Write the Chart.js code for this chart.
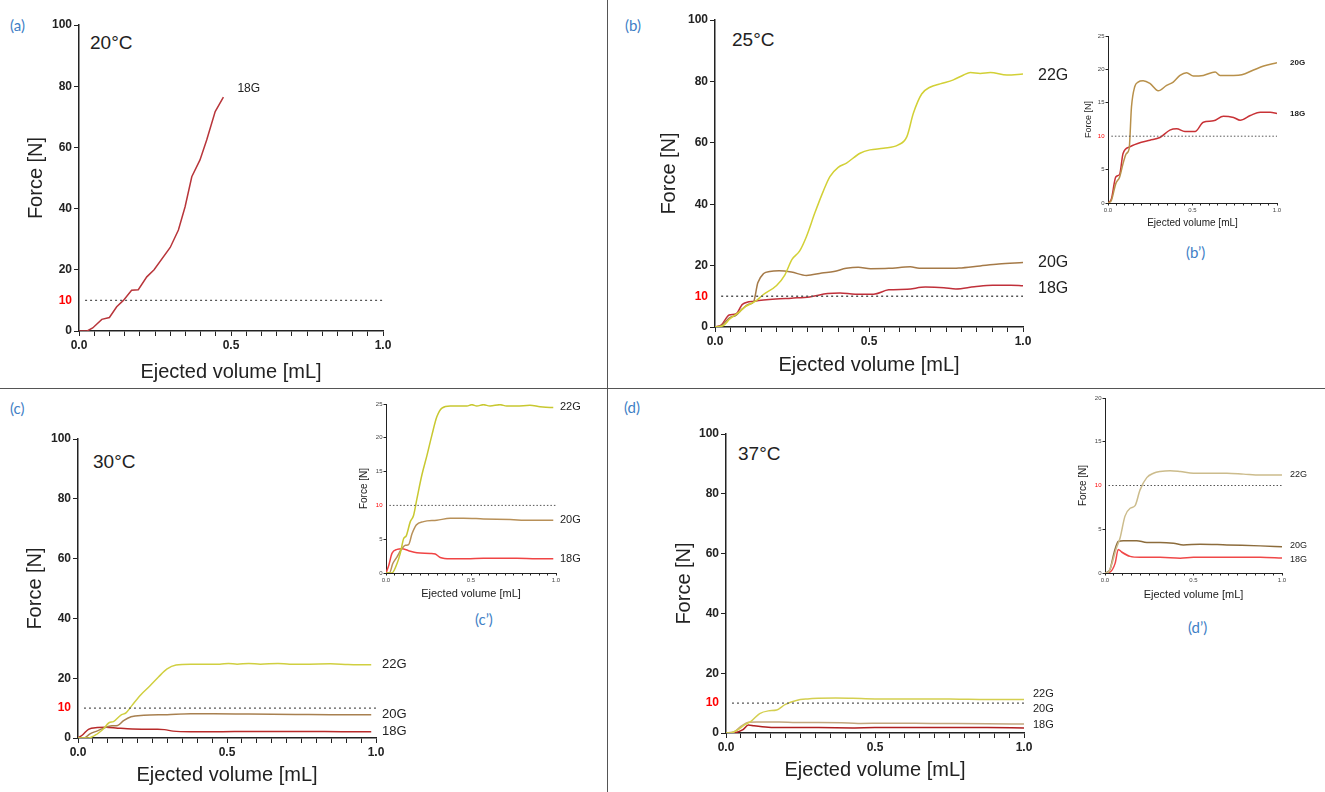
<!DOCTYPE html>
<html>
<head>
<meta charset="utf-8">
<script src="https://cdn.jsdelivr.net/npm/chart.js@4/dist/chart.umd.min.js"></script>
<style>
    body { margin: 0; width: 1325px; height: 792px; background: #fff; position: relative; overflow: hidden; font-family: Arial, "Liberation Sans", sans-serif; }
    canvas { position: absolute; }
    .tag { position: absolute; color: #3f7fc6; font: 15px Lato, "Open Sans", sans-serif; line-height: 1; }
    .temp { position: absolute; color: #222; font-size: 19px; line-height: 1; }
    .vline { position: absolute; left: 607px; top: 0; width: 1px; height: 792px; background: #555; z-index: 5; }
    .hline { position: absolute; left: 0; top: 388px; width: 1325px; height: 1px; background: #555; z-index: 5; }
</style>
</head>
<body>
<div class="vline"></div>
<div class="hline"></div>

<div class="tag" style="left:10px;top:18px">(a)</div>
<div class="tag" style="left:625px;top:18px">(b)</div>
<div class="tag" style="left:10px;top:401px">(c)</div>
<div class="tag" style="left:624px;top:400px">(d)</div>
<div class="tag" style="left:1186px;top:245px">(b’)</div>
<div class="tag" style="left:475px;top:612px">(c’)</div>
<div class="tag" style="left:1188px;top:620px">(d’)</div>

<div class="temp" style="left:90px;top:33px">20°C</div>
<div class="temp" style="left:732px;top:30px">25°C</div>
<div class="temp" style="left:93px;top:452px">30°C</div>
<div class="temp" style="left:738px;top:444px">37°C</div>

<script>
///////////////////////////
// DATA
///////////////////////////

const THRESHOLD = 10;
const thresholdFrom = 0.02;

const yTicksMain = [0, 10, 20, 40, 60, 80, 100];
const yTicksInset25 = [0, 5, 10, 15, 20, 25];
const yTicksInset20 = [0, 5, 10, 15, 20];

// (a) 20°C
const volA18 = [0, 0.027, 0.045, 0.075, 0.1, 0.124, 0.146, 0.173, 0.195, 0.223, 0.247, 0.3, 0.327, 0.349, 0.371, 0.398, 0.42, 0.448, 0.475];
const forceA18 = [0, 0, 1, 3.8, 4.4, 7.9, 10, 13.3, 13.5, 17.7, 20, 27.3, 33, 40.6, 50.4, 55.9, 62.4, 71.7, 76.4];

// (b) 25°C
const volB22 = [0, 0.026, 0.048, 0.075, 0.1, 0.133, 0.156, 0.2, 0.227, 0.25, 0.275, 0.297, 0.324, 0.351, 0.373, 0.4, 0.427, 0.471, 0.503, 0.547, 0.595, 0.623, 0.644, 0.671, 0.698, 0.731, 0.774, 0.807, 0.829, 0.861, 0.894, 0.948, 1.0];
const forceB22 = [0, 0.4, 2.6, 4.6, 6.7, 8.5, 10.5, 13.5, 17, 22, 24.8, 29.5, 37.1, 44.1, 49, 52, 53.4, 56.6, 57.7, 58.2, 59.3, 62, 69.6, 75.9, 78.1, 79.2, 80.5, 82.1, 82.9, 82.6, 82.9, 82.1, 82.4];
const volB20 = [0, 0.02, 0.046, 0.069, 0.089, 0.109, 0.125, 0.139, 0.158, 0.178, 0.208, 0.248, 0.297, 0.347, 0.386, 0.426, 0.465, 0.505, 0.564, 0.634, 0.663, 0.743, 0.792, 0.861, 0.921, 1.0];
const forceB20 = [0, 0.4, 2.9, 3.9, 5.9, 7.4, 8.1, 14.4, 17.4, 18.1, 18.3, 17.9, 16.8, 17.6, 18.1, 19.1, 19.5, 19, 19.1, 19.6, 19.1, 19.1, 19.2, 19.9, 20.5, 21];
const volB18 = [0, 0.02, 0.046, 0.069, 0.089, 0.129, 0.198, 0.248, 0.307, 0.366, 0.406, 0.455, 0.515, 0.564, 0.624, 0.683, 0.743, 0.782, 0.842, 0.901, 0.96, 1.0];
const forceB18 = [0, 0.6, 3.9, 4.3, 7.4, 8.4, 9.1, 9.4, 9.8, 10.9, 11.1, 10.7, 10.7, 12.1, 12.3, 13, 12.8, 12.4, 13.1, 13.6, 13.6, 13.4];

// (c) 30°C
const volC22 = [0, 0.035, 0.065, 0.084, 0.104, 0.119, 0.143, 0.162, 0.182, 0.211, 0.241, 0.27, 0.299, 0.329, 0.378, 0.476, 0.505, 0.534, 0.573, 0.612, 0.671, 0.71, 0.769, 0.847, 0.906, 0.965, 0.984];
const forceC22 = [0, 0, 1.4, 2.9, 5.1, 5.5, 7.6, 8.5, 11, 14.5, 17.4, 20.4, 23.1, 24.4, 24.7, 24.7, 24.9, 24.7, 24.9, 24.7, 24.9, 24.7, 24.7, 24.8, 24.6, 24.5, 24.5];
const volC20 = [0, 0.02, 0.04, 0.065, 0.088, 0.114, 0.133, 0.153, 0.178, 0.221, 0.299, 0.378, 0.456, 0.573, 0.73, 0.847, 0.984];
const forceC20 = [0, 0, 1.4, 2.4, 3.4, 4.1, 4.2, 5.8, 7.1, 7.6, 7.8, 8.1, 8.1, 8, 7.9, 7.8, 7.8];
const volC18 = [0, 0.016, 0.035, 0.065, 0.094, 0.133, 0.182, 0.26, 0.29, 0.319, 0.378, 0.476, 0.573, 0.671, 0.769, 0.886, 0.984];
const forceC18 = [0, 1.1, 2.9, 3.5, 3.6, 3.3, 3, 2.9, 2.8, 2.3, 2.1, 2.1, 2.2, 2.2, 2.2, 2.1, 2.1];

// (d) 37°C
const volD22 = [0, 0.019, 0.038, 0.062, 0.085, 0.113, 0.142, 0.17, 0.198, 0.236, 0.274, 0.311, 0.368, 0.425, 0.5, 0.594, 0.689, 0.783, 0.877, 1.0];
const forceD22 = [0, 0.1, 1, 2.7, 4, 6.5, 7.4, 7.7, 9.5, 10.9, 11.4, 11.6, 11.7, 11.6, 11.4, 11.4, 11.4, 11.3, 11.2, 11.2];
const volD20 = [0, 0.028, 0.051, 0.075, 0.104, 0.179, 0.236, 0.311, 0.387, 0.443, 0.538, 0.689, 0.877, 1.0];
const forceD20 = [0, 0.4, 2.3, 3.6, 3.7, 3.7, 3.5, 3.5, 3.4, 3.2, 3.3, 3.2, 3.1, 3.0];
const volD18 = [0, 0.028, 0.057, 0.075, 0.094, 0.142, 0.198, 0.311, 0.425, 0.5, 0.689, 0.877, 1.0];
const forceD18 = [0, 0.1, 1.1, 2.7, 2.4, 1.9, 1.8, 1.8, 1.7, 1.8, 1.8, 1.8, 1.7];

///////////////////////////
// PLUGIN – curve labels
///////////////////////////

const endLabels = {
    id: "endLabels",
    afterDatasetsDraw(chart, args, opts) {
        const { ctx, scales: { x, y } } = chart;
        ctx.save();
        ctx.font = opts.font;
        ctx.fillStyle = "#222";
        ctx.textBaseline = "middle";
        chart.data.datasets.forEach(ds => {
            if (!ds.label) return;
            const last = ds.data[ds.data.length - 1];
            const dy = (opts.dy && opts.dy[ds.label]) || 0;
            const px = opts.atEdge ? chart.chartArea.right + opts.dx : x.getPixelForValue(last.x) + opts.dx;
            ctx.fillText(ds.label, px, y.getPixelForValue(last.y) + dy);
        });
        ctx.restore();
    }
};

///////////////////////////
// CHART BUILDER
///////////////////////////

function toPoints(xs, ys) {
    return xs.map((v, i) => ({ x: v, y: ys[i] }));
}

function isMajor(v) {
    return Math.abs(v * 2 - Math.round(v * 2)) < 1e-6;
}

function makeChart(p) {
    const w = p.yw + (p.R - p.L) + p.pr;
    const h = p.pt + (p.B - p.T) + p.xh;
    const cv = document.createElement("canvas");
    cv.width = w;
    cv.height = h;
    cv.style.width = w + "px";
    cv.style.height = h + "px";
    cv.style.left = (p.L - p.yw) + "px";
    cv.style.top = (p.T - p.pt) + "px";
    document.body.appendChild(cv);

    const datasets = [{
        data: [{ x: thresholdFrom, y: THRESHOLD }, { x: 1, y: THRESHOLD }],
        borderColor: "#555",
        borderWidth: p.inset ? 1 : 1.4,
        borderDash: p.inset ? [1.5, 2] : [2, 3],
        pointRadius: 0
    }];

    p.series.forEach(s => {
        datasets.push({
            label: s.label,
            data: toPoints(s.xs, s.ys),
            borderColor: s.color,
            borderWidth: 1.5,
            pointRadius: 0,
            cubicInterpolationMode: p.smooth ? "monotone" : "default",
            tension: 0
        });
    });

    const tickFont = p.inset
        ? { family: "Arial", size: 6 }
        : { family: "Arial", size: 12, weight: "bold" };
    const tickColor = p.inset ? "#444" : "#222";

    new Chart(cv.getContext("2d"), {
        type: "line",
        data: { datasets },
        plugins: [endLabels],
        options: {
            responsive: false,
            animation: false,
            layout: { padding: { left: 0, top: p.pt, right: p.pr, bottom: 0 } },
            plugins: {
                legend: { display: false },
                tooltip: { enabled: false },
                endLabels: p.labels
            },
            scales: {
                x: {
                    type: "linear",
                    min: 0,
                    max: 1,
                    border: { color: "#222", width: p.inset ? 1 : 1.5 },
                    grid: { drawOnChartArea: false, tickLength: p.inset ? 2.5 : 5, tickColor: "#222", tickWidth: 1 },
                    ticks: {
                        stepSize: 0.05,
                        maxTicksLimit: 40,
                        autoSkip: false,
                        maxRotation: 0,
                        padding: p.inset ? 1 : 2,
                        font: tickFont,
                        color: tickColor,
                        callback: v => isMajor(v) ? v.toFixed(1) : ""
                    },
                    title: {
                        display: true,
                        text: "Ejected volume [mL]",
                        color: "#222",
                        font: { family: "Arial", size: p.titleSize },
                        padding: { top: 4, bottom: 4 }
                    },
                    afterFit: s => { s.height = p.xh; }
                },
                y: {
                    min: 0,
                    max: p.yMax,
                    afterBuildTicks: s => { s.ticks = p.yTicks.map(v => ({ value: v })); },
                    border: { color: "#222", width: p.inset ? 1 : 1.5 },
                    grid: {
                        drawOnChartArea: false,
                        tickLength: p.inset ? 2.5 : 5,
                        tickWidth: 1,
                        tickColor: c => c.tick && c.tick.value === THRESHOLD ? "rgba(0,0,0,0)" : "#222"
                    },
                    ticks: {
                        padding: p.inset ? 1 : 2,
                        font: tickFont,
                        color: c => c.tick && c.tick.value === THRESHOLD ? "#f00" : tickColor
                    },
                    title: {
                        display: true,
                        text: "Force [N]",
                        color: "#222",
                        font: { family: "Arial", size: p.yTitleSize || p.titleSize },
                        padding: { top: 4, bottom: 4 }
                    },
                    afterFit: s => { s.width = p.yw; }
                }
            }
        }
    });
}

///////////////////////////
// PANELS
///////////////////////////

// (a) 20°C
makeChart({
    L: 79, T: 25, R: 383, B: 331, yw: 59, xh: 57, pt: 10, pr: 40,
    yMax: 100, yTicks: yTicksMain, titleSize: 20, smooth: false,
    labels: { font: "12px Arial", dx: 14, dy: { "18G": -9 }, atEdge: false },
    series: [{ label: "18G", xs: volA18, ys: forceA18, color: "#b8353a" }]
});

// (b) 25°C
makeChart({
    L: 715, T: 20, R: 1023, B: 327, yw: 62, xh: 54, pt: 10, pr: 55,
    yMax: 100, yTicks: yTicksMain, titleSize: 20, smooth: true,
    labels: { font: "16px Arial", dx: 15, dy: { "22G": 2, "18G": 3 }, atEdge: true },
    series: [
        { label: "22G", xs: volB22, ys: forceB22, color: "#d2d036" },
        { label: "20G", xs: volB20, ys: forceB20, color: "#a57a48" },
        { label: "18G", xs: volB18, ys: forceB18, color: "#c0303a" }
    ]
});

// (b') inset
makeChart({
    L: 1108, T: 36, R: 1277, B: 203, yw: 29, xh: 30, pt: 6, pr: 35, inset: true,
    yMax: 25, yTicks: yTicksInset25, titleSize: 10, yTitleSize: 9, smooth: true,
    labels: { font: "bold 8px Arial", dx: 13, atEdge: true },
    series: [
        { label: "20G", xs: volB20, ys: forceB20, color: "#b8904a" },
        { label: "18G", xs: volB18, ys: forceB18, color: "#c83236" }
    ]
});

// (c) 30°C
makeChart({
    L: 78, T: 439, R: 376, B: 738, yw: 59, xh: 53, pt: 10, pr: 35,
    yMax: 100, yTicks: yTicksMain, titleSize: 20, smooth: true,
    labels: { font: "13px Arial", dx: 6, atEdge: true },
    series: [
        { label: "22G", xs: volC22, ys: forceC22, color: "#d0cf40" },
        { label: "20G", xs: volC20, ys: forceC20, color: "#a88050" },
        { label: "18G", xs: volC18, ys: forceC18, color: "#b82a2a" }
    ]
});

// (c') inset
makeChart({
    L: 386, T: 404, R: 556, B: 573, yw: 32, xh: 32, pt: 6, pr: 30, inset: true,
    yMax: 25, yTicks: yTicksInset25, titleSize: 11, yTitleSize: 10, smooth: true,
    labels: { font: "11px Arial", dx: 4, atEdge: true },
    series: [
        { label: "22G", xs: volC22, ys: forceC22, color: "#c8c830" },
        { label: "20G", xs: volC20, ys: forceC20, color: "#b89058" },
        { label: "18G", xs: volC18, ys: forceC18, color: "#f04444" }
    ]
});

// (d) 37°C
makeChart({
    L: 726, T: 434, R: 1024, B: 733, yw: 58, xh: 53, pt: 10, pr: 40,
    yMax: 100, yTicks: yTicksMain, titleSize: 20, smooth: true,
    labels: { font: "11px Arial", dx: 9, dy: { "22G": -6, "20G": -15, "18G": -3 }, atEdge: true },
    series: [
        { label: "22G", xs: volD22, ys: forceD22, color: "#d4cf50" },
        { label: "20G", xs: volD20, ys: forceD20, color: "#c2a67e" },
        { label: "18G", xs: volD18, ys: forceD18, color: "#b02020" }
    ]
});

// (d') inset
makeChart({
    L: 1105, T: 398, R: 1282, B: 573, yw: 32, xh: 33, pt: 6, pr: 30, inset: true,
    yMax: 20, yTicks: yTicksInset20, titleSize: 11, yTitleSize: 10, smooth: true,
    labels: { font: "9px Arial", dx: 8, dy: { "20G": -1, "18G": 1 }, atEdge: true },
    series: [
        { label: "22G", xs: volD22, ys: forceD22, color: "#ccbc8c" },
        { label: "20G", xs: volD20, ys: forceD20, color: "#8c6c3c" },
        { label: "18G", xs: volD18, ys: forceD18, color: "#f04848" }
    ]
});
</script>
</body>
</html>
